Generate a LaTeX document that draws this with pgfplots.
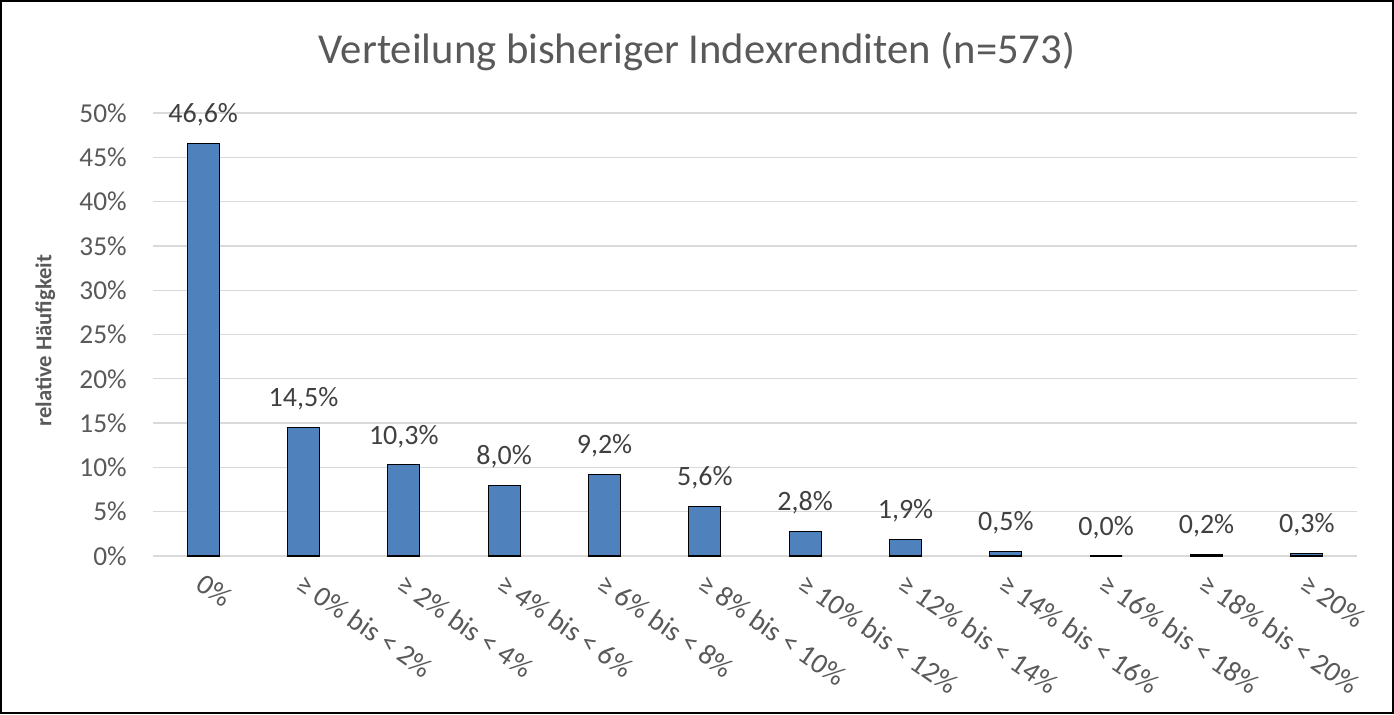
\documentclass[border=0pt]{standalone}
\usepackage{pgfplots}
\pgfplotsset{compat=1.18}
\usepackage{fontspec}
\setmainfont{Carlito}
\definecolor{barblue}{HTML}{4F81BD}
\definecolor{txtgray}{HTML}{595959}
\definecolor{lblgray}{HTML}{404040}
\definecolor{gridgray}{HTML}{D9D9D9}
\begin{document}
\begin{tikzpicture}
\draw[black, line width=1.5pt] (0.75pt,0.75pt) rectangle (1044.75pt,534.75pt);
\node[txtgray, font=\fontsize{32}{36}\selectfont] at (522.75pt,497pt) {Verteilung bisheriger Indexrenditen (n=573)};
\node[txtgray, font=\fontsize{17}{20}\selectfont\bfseries, rotate=90] at (34pt,280pt) {relative Häufigkeit};
\begin{axis}[
  at={(114.75pt,118.5pt)}, anchor=south west,
  scale only axis, width=903pt, height=332.25pt,
  xmin=-0.5, xmax=11.5, ymin=0, ymax=50,
  ytick={0,5,...,50},
  yticklabel={\pgfmathprintnumber{\tick}\%},
  /pgf/number format/assume math mode=true,
  ymajorgrids, major grid style={gridgray, line width=1pt},
  axis line style={draw=none},
  major tick length=0pt,
  tick label style={txtgray, font=\fontsize{20.5}{24}\selectfont},
  yticklabel style={anchor=east, inner sep=0pt, xshift=-19.5pt},
  xtick=data,
  xticklabels={0\%, ≥ 0\% bis < 2\%, ≥ 2\% bis < 4\%, ≥ 4\% bis < 6\%, ≥ 6\% bis < 8\%, ≥ 8\% bis < 10\%, ≥ 10\% bis < 12\%, ≥ 12\% bis < 14\%, ≥ 14\% bis < 16\%, ≥ 16\% bis < 18\%, ≥ 18\% bis < 20\%, ≥ 20\%},
  xticklabel style={anchor=west, rotate=-35, inner sep=0pt, xshift=-3pt, font=\fontsize{21.5}{25}\selectfont},
  xticklabel shift=20pt,
  clip=false,
]
\addplot[ybar, bar width=24pt, fill=barblue, draw=black, line width=0.9pt,
  nodes near coords={\pgfmathprintnumber[fixed,fixed zerofill,precision=1,use comma]{\pgfplotspointmeta}\%},
  every node near coord/.append style={lblgray, font=\fontsize{21}{25}\selectfont, anchor=base, inner sep=0pt, yshift=15.5pt},
] coordinates {
(0,46.6) (1,14.5) (2,10.3) (3,8.0) (4,9.2) (5,5.6) (6,2.8) (7,1.9) (8,0.5) (9,0.0) (10,0.2) (11,0.3)
};
\end{axis}
\end{tikzpicture}
\end{document}
